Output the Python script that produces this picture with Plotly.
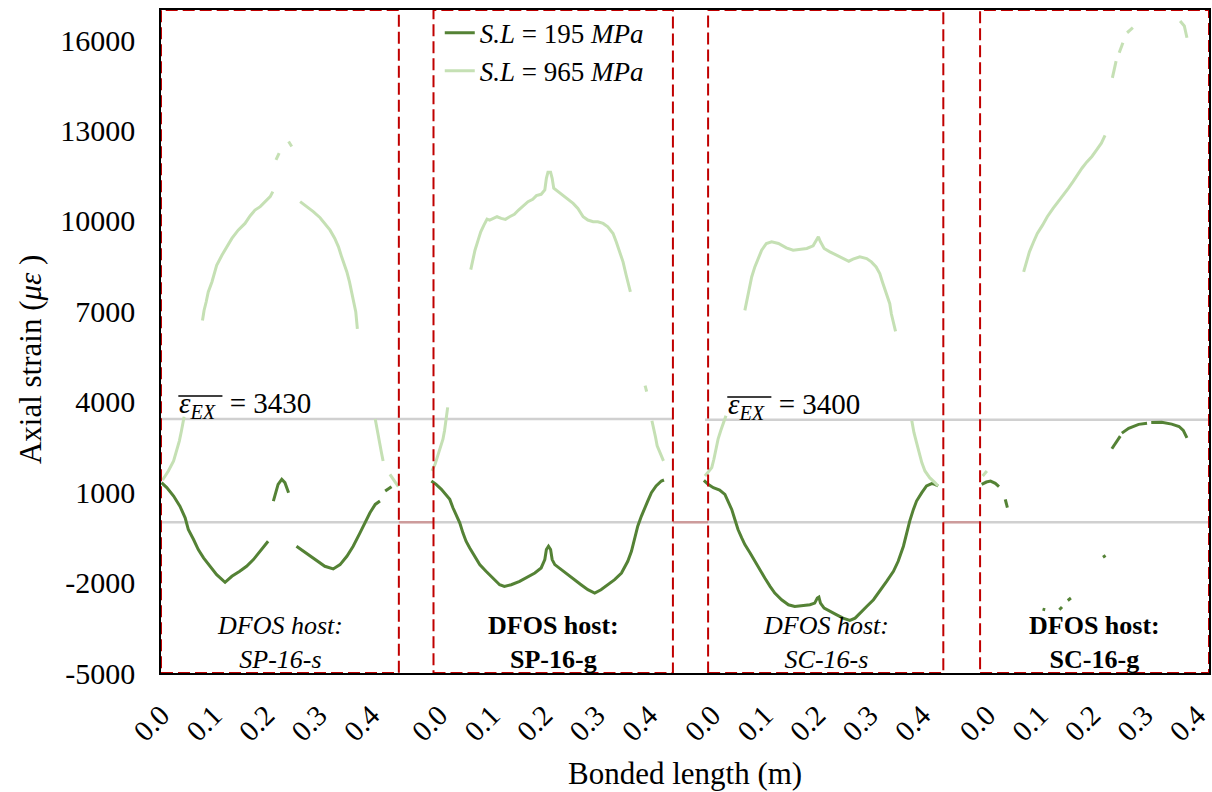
import plotly.graph_objects as go

# ---------------- layout constants (m along the concatenated axis) ----------------
PANEL_OFFSETS = [0.0, 0.515, 1.034, 1.562]          # where each panel's data starts
PANEL_BOUNDS = [(0.0, 0.453), (0.519, 0.975), (1.042, 1.490), (1.560, 1.996)]
TICK_BASES = [0.0, 0.5295, 1.0495, 1.573]
X_RANGE = [0.0, 1.996]
Y_RANGE = [-5000, 17000]

tick_steps = [0.0, 0.1, 0.2, 0.3, 0.4]
tick_step_labels = ["0.0", "0.1", "0.2", "0.3", "0.4"]
y_tick_vals = [-5000, -2000, 1000, 4000, 7000, 10000, 13000, 16000]
y_tick_text = ["-5000", "-2000", "1000", "4000", "7000", "10000", "13000", "16000"]

series_names = ["<i>S.L</i> = 195 <i>MPa</i>", "<i>S.L</i> = 965 <i>MPa</i>"]
panel_labels = ["<i>DFOS host:<br>SP-16-s</i>", "<b>DFOS host:<br>SP-16-g</b>",
                "<i>DFOS host:<br>SC-16-s</i>", "<b>DFOS host:<br>SC-16-g</b>"]
ex_values = [3430, 3400]

# ---------------- data: position along bonded length (m) and axial strain (µε) ----------------
# Panel 1 : SP-16-s
p1_dark_pos = [0.001, 0.011, 0.024, 0.036, 0.046, 0.052, 0.062, 0.071, 0.081, 0.093, 0.106, 0.122, 0.135,
               0.150, 0.163, 0.176, 0.189, 0.204, None, 0.214, 0.223, 0.230, 0.236, 0.243, None, 0.258,
               0.271, 0.284, 0.297, 0.312, 0.328, 0.341, 0.354, 0.366, 0.379, 0.389, 0.398, 0.408, 0.417,
               None, 0.427, 0.439]
p1_dark_val = [1317, 1151, 871, 538, 151, -238, -571, -904, -1181, -1459, -1737, -1992, -1792,
               -1626, -1459, -1237, -960, -627, None, 705, 1260, 1427, 1317, 984, None, -793,
               -960, -1126, -1293, -1459, -1548, -1403, -1126, -793, -349, -16, 317, 594, 705,
               None, 1038, 1183]
p1_light_pos = [0.003, 0.014, 0.024, 0.030, 0.035, 0.039, 0.044, None,
                0.079, 0.082, 0.086, 0.090, 0.097, 0.100, 0.106, 0.116, 0.125, 0.135, 0.147, 0.160,
                0.170, 0.179, 0.189, 0.198, 0.208, 0.213, None, 0.219, 0.225, None, 0.243, 0.249, None,
                0.265, 0.278, 0.290, 0.303, 0.312, 0.322, 0.331, 0.338, 0.344, 0.349, 0.354, 0.359,
                0.363, 0.368, 0.371, 0.374, None, 0.408, 0.412, 0.416, 0.420, 0.423, None, 0.436, 0.452]
p1_light_val = [1405, 1705, 2037, 2371, 2705, 3037, 3500, None,
                6698, 7031, 7311, 7644, 7977, 8197, 8530, 8863, 9142, 9419, 9695, 9918,
                10175, 10361, 10474, 10618, 10807, 10974, None, 12026, 12249, None, 12639, 12472, None,
                10641, 10474, 10308, 10108, 9918, 9695, 9419, 9142, 8809, 8586, 8310, 7977,
                7644, 7311, 6978, 6422, None, 3425, 3000, 2650, 2300, 2037, None, 1593, 1184]

# Panel 2 : SP-16-g
p2_dark_pos = [0.000, 0.009, 0.019, 0.028, 0.035, 0.041, 0.047, 0.054, 0.060, 0.066,
               0.073, 0.082, 0.092, 0.104, 0.117, 0.130, 0.139, 0.152, 0.168, 0.184,
               0.197, 0.209, 0.216, 0.219, 0.223, 0.227, 0.230, 0.235, 0.247, 0.260,
               0.273, 0.285, 0.298, 0.311, 0.323, 0.336, 0.349, 0.362, 0.374, 0.381,
               0.387, 0.393, 0.400, 0.406, 0.412, 0.419, 0.428, 0.438, 0.443]
p2_dark_val = [1371, 1260, 1094, 927, 761, 483, 261, -16, -349, -627,
               -849, -1126, -1404, -1626, -1848, -2070, -2125, -2070, -1959, -1792,
               -1681, -1515, -1237, -904, -793, -904, -1237, -1404, -1570, -1737,
               -1903, -2070, -2236, -2347, -2236, -2070, -1903, -1681, -1293, -960,
               -571, -127, 206, 428, 705, 983, 1205, 1371, 1405]
p2_light_pos = [0.001, 0.007, 0.012, 0.017, 0.022, 0.025, 0.028, 0.031, None,
                0.075, 0.079, 0.083, 0.089, 0.094, 0.100, 0.106, 0.111, 0.117, 0.125,
                0.133, 0.141, 0.149, 0.158, 0.166, 0.174, 0.184, 0.193, 0.200, 0.209,
                0.216, 0.219, 0.222, 0.227, 0.230, 0.233, 0.241, 0.250, 0.260, 0.270,
                0.279, 0.289, 0.298, 0.308, 0.317, 0.327, 0.336, 0.346, 0.352, 0.358,
                0.365, 0.371, 0.379, None, 0.407, 0.410, None,
                0.420, 0.424, 0.427, 0.430, 0.435, 0.439, 0.442]
p2_light_val = [1704, 1926, 2204, 2481, 2759, 3036, 3369, 3813, None,
                8387, 8697, 9030, 9363, 9641, 9863, 10063, 10030, 10085, 10140,
                10085, 10052, 10140, 10218, 10362, 10496, 10640, 10718, 10840, 10884,
                11028, 11417, 11617, 11617, 11417, 11084, 10973, 10840, 10695, 10584,
                10418, 10140, 10030, 9974, 9974, 9918, 9807, 9585, 9308, 8975,
                8642, 8198, 7643, None, 4535, 4335, None,
                3369, 3092, 2814, 2537, 2315, 2204, 2037]

# Panel 3 : SC-16-s
p3_dark_pos = [0.000, 0.008, 0.018, 0.030, 0.040, 0.046, 0.053, 0.059, 0.065, 0.072, 0.078,
               0.088, 0.097, 0.107, 0.116, 0.126, 0.135, 0.148, 0.161, 0.173, 0.186,
               0.202, 0.211, 0.216, 0.219, 0.222, 0.229, 0.240, 0.253, 0.265, 0.278,
               0.288, 0.297, 0.310, 0.323, 0.335, 0.348, 0.361, 0.370, 0.380, 0.386,
               0.392, 0.399, 0.405, 0.415, 0.424, 0.434, 0.440, 0.446]
p3_dark_val = [1394, 1260, 1149, 1072, 927, 705, 428, 95, -238, -516, -738,
               -1015, -1293, -1570, -1848, -2125, -2347, -2569, -2736, -2791, -2769,
               -2736, -2680, -2514, -2480, -2680, -2847, -2958, -3069, -3180, -3257,
               -3180, -3013, -2791, -2569, -2292, -1959, -1626, -1293, -793, -349,
               39, 428, 705, 983, 1205, 1283, 1260, 1205]
p3_light_pos = [0.002, 0.008, 0.015, 0.019, 0.023, 0.027, 0.032, 0.037, 0.042, None,
                0.078, 0.083, 0.088, 0.091, 0.097, 0.103, 0.110, 0.119, 0.129, 0.142,
                0.157, 0.170, 0.183, 0.196, 0.208, 0.215, 0.218, 0.222, 0.229, 0.240,
                0.253, 0.265, 0.276, 0.284, 0.297, 0.310, 0.319, 0.328, 0.335, 0.340,
                0.345, 0.349, 0.354, 0.357, 0.361, 0.365, None,
                0.396, 0.400, 0.405, 0.410, 0.415, 0.421, 0.430, 0.440, 0.446]
p3_light_val = [1538, 1649, 1815, 2093, 2426, 2759, 3036, 3314, 3536, None,
                7032, 7421, 7809, 8142, 8475, 8753, 9030, 9252, 9308, 9252,
                9108, 9030, 9053, 9086, 9175, 9363, 9474, 9308, 9086, 8975,
                8864, 8753, 8664, 8731, 8808, 8753, 8642, 8475, 8253, 7976,
                7698, 7476, 7254, 6921, 6644, 6333, None,
                3369, 2981, 2648, 2315, 1982, 1704, 1482, 1316, 1205]

# Panel 4 : SC-16-g
p4_dark_pos = [0.001, 0.010, 0.018, 0.027, 0.034, None, 0.046, 0.050, None, 0.117, 0.122, None,
               0.149, 0.154, None, 0.165, 0.171, None, 0.232, 0.237, None,
               0.249, 0.257, 0.265, None, 0.268, 0.281, 0.300, 0.316, None,
               0.324, 0.344, 0.363, 0.377, 0.385, 0.392]
p4_dark_val = [1260, 1337, 1370, 1294, 1184, None, 761, 484, None, -2879, -2902, None,
               -2902, -2812, None, -2592, -2513, None, -1161, -1104, None,
               2440, 2650, 2860, None, 2960, 3120, 3250, 3290, None,
               3310, 3320, 3258, 3180, 3050, 2800]
p4_light_pos = [0.003, 0.011, None,
                0.081, 0.087, 0.092, 0.100, 0.107, 0.117, 0.126, 0.137, 0.147, 0.157,
                0.166, 0.175, 0.183, 0.192, 0.201, 0.211, 0.220, 0.229, 0.236, None,
                0.250, 0.253, 0.257, None, 0.263, 0.270, None, 0.278, 0.289, None,
                0.379, 0.387, 0.392]
p4_light_val = [1537, 1705, None,
                8310, 8643, 8976, 9309, 9585, 9862, 10142, 10418, 10641, 10861,
                11084, 11307, 11527, 11750, 11950, 12139, 12359, 12582, 12839, None,
                14747, 15023, 15303, None, 15579, 15912, None, 16245, 16412, None,
                16635, 16468, 16079]

dark_pos = [p1_dark_pos, p2_dark_pos, p3_dark_pos, p4_dark_pos]
dark_val = [p1_dark_val, p2_dark_val, p3_dark_val, p4_dark_val]
light_pos = [p1_light_pos, p2_light_pos, p3_light_pos, p4_light_pos]
light_val = [p1_light_val, p2_light_val, p3_light_val, p4_light_val]

DARK = "#548235"
LIGHT = "#C5E0B4"
RED = "#C00000"
GRAY = "#D0D0D0"
FONT = "Liberation Serif"


def concat(pos_lists, val_lists):
    xs, ys = [], []
    for off, ps, vs in zip(PANEL_OFFSETS, pos_lists, val_lists):
        xs += [None if p is None else off + p for p in ps] + [None]
        ys += list(vs) + [None]
    return xs, ys


fig = go.Figure()
xd, yd = concat(dark_pos, dark_val)
xl, yl = concat(light_pos, light_val)
fig.add_trace(go.Scatter(x=xd, y=yd, mode="lines", name=series_names[0],
                         line=dict(color=DARK, width=3), connectgaps=False))
fig.add_trace(go.Scatter(x=xl, y=yl, mode="lines", name=series_names[1],
                         line=dict(color=LIGHT, width=3), connectgaps=False))

shapes = []
# horizontal reference lines
shapes.append(dict(type="line", xref="x", yref="y", x0=X_RANGE[0], x1=X_RANGE[1], y0=0, y1=0,
                   line=dict(color=GRAY, width=2.5), layer="below"))
shapes.append(dict(type="line", xref="x", yref="y", x0=PANEL_BOUNDS[0][0], x1=PANEL_BOUNDS[1][1],
                   y0=ex_values[0], y1=ex_values[0], line=dict(color=GRAY, width=2.5), layer="below"))
shapes.append(dict(type="line", xref="x", yref="y", x0=PANEL_BOUNDS[2][0] - 0.006, x1=X_RANGE[1],
                   y0=ex_values[1], y1=ex_values[1], line=dict(color=GRAY, width=2.5), layer="below"))
for i in range(3):
    shapes.append(dict(type="line", xref="x", yref="y", x0=PANEL_BOUNDS[i][1], x1=PANEL_BOUNDS[i + 1][0],
                       y0=0, y1=0, line=dict(color="rgba(200,60,60,0.35)", width=2.5), layer="below"))
# dashed red panel frames
for (a, b) in PANEL_BOUNDS:
    shapes.append(dict(type="rect", xref="x", yref="y", x0=a, x1=b, y0=Y_RANGE[0], y1=Y_RANGE[1],
                       line=dict(color=RED, width=2, dash="12px,5px"), fillcolor="rgba(0,0,0,0)",
                       layer="above"))

annotations = []
for (a, b), lab in zip(PANEL_BOUNDS, panel_labels):
    annotations.append(dict(x=(a + b) / 2, y=-4000, xref="x", yref="y", text=lab, showarrow=False,
                            font=dict(family=FONT, size=26, color="black"), xanchor="center",
                            yanchor="middle", align="center"))
# mean strain labels with an overline drawn over the symbol
ex_x = [0.030, 1.0755]
for xx, ev in zip(ex_x, ex_values):
    annotations.append(dict(x=xx, y=ev + 470, xref="x", yref="y",
                            text="<i>ε<sub>EX</sub></i>  = " + str(ev),
                            showarrow=False, font=dict(family=FONT, size=29, color="black"),
                            xanchor="left", yanchor="middle"))
    shapes.append(dict(type="line", xref="x", yref="y", x0=xx + 0.003, x1=xx + 0.087,
                       y0=ev + 760, y1=ev + 760, line=dict(color="black", width=1.5)))
annotations.append(dict(x=0.5, y=-0.151, xref="paper", yref="paper", text="Bonded length (m)",
                        showarrow=False, font=dict(family=FONT, size=31, color="black"),
                        xanchor="center", yanchor="middle"))
annotations.append(dict(x=-0.125, y=0.472, xref="paper", yref="paper", text="Axial strain (<i>με</i> )",
                        textangle=-90, showarrow=False, font=dict(family=FONT, size=31, color="black"),
                        xanchor="center", yanchor="middle"))

tickvals, ticktext = [], []
for base in TICK_BASES:
    for s, t in zip(tick_steps, tick_step_labels):
        tickvals.append(base + s)
        ticktext.append(t)

fig.update_layout(
    width=1212, height=792,
    margin=dict(l=161, r=3, t=10, b=119, autoexpand=False),
    paper_bgcolor="white", plot_bgcolor="white",
    shapes=shapes, annotations=annotations,
    showlegend=True,
    legend=dict(x=0.266, y=1.002, xanchor="left", yanchor="top", bgcolor="rgba(0,0,0,0)",
                font=dict(family=FONT, size=27, color="black"), tracegroupgap=0),
    xaxis=dict(range=X_RANGE, tickvals=tickvals, ticktext=ticktext, tickangle=-45,
               tickfont=dict(family=FONT, size=29, color="black"), showgrid=False, zeroline=False,
               showline=True, linecolor="black", linewidth=1.5, mirror=True, ticks="",
               ticklabelstandoff=12, ticklabeloverflow="allow", automargin=False),
    yaxis=dict(range=Y_RANGE, tickvals=y_tick_vals, ticktext=y_tick_text,
               tickfont=dict(family=FONT, size=30, color="black"), showgrid=False, zeroline=False,
               showline=True, linecolor="black", linewidth=1.5, mirror=True, ticks="",
               ticklabelstandoff=18, automargin=False),
)

fig.write_html("out.html")
